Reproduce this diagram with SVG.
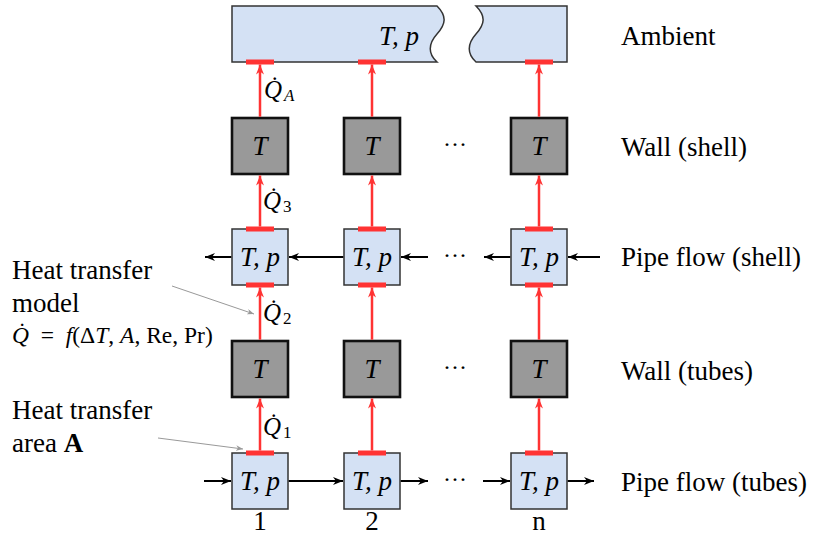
<svg xmlns="http://www.w3.org/2000/svg" width="813" height="536" viewBox="0 0 813 536">
<style>
.flow{fill:#d4e1f4;stroke:#333;stroke-width:1.5}
.wall{fill:#999;stroke:#111;stroke-width:2.6}
.bar{fill:#ff3333}
.heat{stroke:#ff3333;stroke-width:2.5;fill:none}
.mass{stroke:#000;stroke-width:2;fill:none}
.lead{stroke:#999;stroke-width:1;fill:none}
text{font-family:"Liberation Serif","Times New Roman","DejaVu Serif",serif;fill:#000}
.m{font-style:italic;font-size:27px;text-anchor:middle}
.lbl{font-size:27px}
.q{font-style:italic;font-size:25px}
.sub{font-size:17px}
.up{font-style:normal}
.dots{font-size:24px;text-anchor:middle}
</style>
<defs>
<marker id="ar" viewBox="0 0 10 8" refX="10" refY="4" markerWidth="10" markerHeight="8" markerUnits="userSpaceOnUse" orient="auto">
<path d="M0,0 L10,4 L0,8 L3,4 Z" fill="#ff3333"/>
</marker>
<marker id="ab" viewBox="0 0 10 8" refX="10" refY="4" markerWidth="10" markerHeight="8" markerUnits="userSpaceOnUse" orient="auto">
<path d="M0,0 L10,4 L0,8 L3,4 Z" fill="#000"/>
</marker>
<marker id="ag" viewBox="0 0 10 8" refX="10" refY="4" markerWidth="7" markerHeight="5.6" markerUnits="userSpaceOnUse" orient="auto">
<path d="M0,0 L10,4 L0,8 L3,4 Z" fill="#999"/>
</marker>
</defs>

<g id="ambient">
<path class="flow" d="M232,6 L437,6 C447,16 446,24 437,34 C428,44 428,54 437,62 L232,62 Z"/>
<path class="flow" d="M476,6 L567,6 L567,62 L476,62 C467,54 467,44 476,34 C485,24 486,16 476,6 Z"/>
<text class="m" x="399" y="45">T, p</text>
<rect class="bar" x="246" y="59.5" width="28" height="5"/>
<rect class="bar" x="358" y="59.5" width="28" height="5"/>
<rect class="bar" x="525" y="59.5" width="28" height="5"/>
</g>

<g id="wall-shell-1"><rect class="wall" x="232" y="118" width="56" height="56"/><text class="m" x="260" y="155">T</text></g>
<g id="wall-shell-2"><rect class="wall" x="344" y="118" width="56" height="56"/><text class="m" x="372" y="155">T</text></g>
<g id="wall-shell-n"><rect class="wall" x="511" y="118" width="56" height="56"/><text class="m" x="539" y="155">T</text></g>

<g id="shell-1"><rect class="flow" x="232" y="229" width="56" height="56"/><rect class="bar" x="246" y="226.5" width="28" height="5"/><rect class="bar" x="246" y="282.5" width="28" height="5"/><text class="m" x="260" y="266">T, p</text></g>
<g id="shell-2"><rect class="flow" x="344" y="229" width="56" height="56"/><rect class="bar" x="358" y="226.5" width="28" height="5"/><rect class="bar" x="358" y="282.5" width="28" height="5"/><text class="m" x="372" y="266">T, p</text></g>
<g id="shell-n"><rect class="flow" x="511" y="229" width="56" height="56"/><rect class="bar" x="525" y="226.5" width="28" height="5"/><rect class="bar" x="525" y="282.5" width="28" height="5"/><text class="m" x="539" y="266">T, p</text></g>

<g id="wall-tubes-1"><rect class="wall" x="232" y="341" width="56" height="56"/><text class="m" x="260" y="378">T</text></g>
<g id="wall-tubes-2"><rect class="wall" x="344" y="341" width="56" height="56"/><text class="m" x="372" y="378">T</text></g>
<g id="wall-tubes-n"><rect class="wall" x="511" y="341" width="56" height="56"/><text class="m" x="539" y="378">T</text></g>

<g id="tubes-1"><rect class="flow" x="232" y="453" width="56" height="56"/><rect class="bar" x="246" y="450.5" width="28" height="5"/><text class="m" x="260" y="490">T, p</text></g>
<g id="tubes-2"><rect class="flow" x="344" y="453" width="56" height="56"/><rect class="bar" x="358" y="450.5" width="28" height="5"/><text class="m" x="372" y="490">T, p</text></g>
<g id="tubes-n"><rect class="flow" x="511" y="453" width="56" height="56"/><rect class="bar" x="525" y="450.5" width="28" height="5"/><text class="m" x="539" y="490">T, p</text></g>

<g id="connectors">
<line class="heat" x1="260" y1="116.7" x2="260" y2="64.5" marker-end="url(#ar)"/>
<line class="heat" x1="372" y1="116.7" x2="372" y2="64.5" marker-end="url(#ar)"/>
<line class="heat" x1="539" y1="116.7" x2="539" y2="64.5" marker-end="url(#ar)"/>
<line class="heat" x1="260" y1="226.5" x2="260" y2="175.5" marker-end="url(#ar)"/>
<line class="heat" x1="372" y1="226.5" x2="372" y2="175.5" marker-end="url(#ar)"/>
<line class="heat" x1="539" y1="226.5" x2="539" y2="175.5" marker-end="url(#ar)"/>
<line class="heat" x1="260" y1="339.7" x2="260" y2="287.5" marker-end="url(#ar)"/>
<line class="heat" x1="372" y1="339.7" x2="372" y2="287.5" marker-end="url(#ar)"/>
<line class="heat" x1="539" y1="339.7" x2="539" y2="287.5" marker-end="url(#ar)"/>
<line class="heat" x1="260" y1="450.5" x2="260" y2="398.5" marker-end="url(#ar)"/>
<line class="heat" x1="372" y1="450.5" x2="372" y2="398.5" marker-end="url(#ar)"/>
<line class="heat" x1="539" y1="450.5" x2="539" y2="398.5" marker-end="url(#ar)"/>

<line class="mass" x1="600" y1="257" x2="568" y2="257" marker-end="url(#ab)"/>
<line class="mass" x1="510.3" y1="257" x2="484" y2="257" marker-end="url(#ab)"/>
<line class="mass" x1="428" y1="257" x2="401" y2="257" marker-end="url(#ab)"/>
<line class="mass" x1="343.3" y1="257" x2="289" y2="257" marker-end="url(#ab)"/>
<line class="mass" x1="231.3" y1="257" x2="205" y2="257" marker-end="url(#ab)"/>

<line class="mass" x1="204" y1="481" x2="231" y2="481" marker-end="url(#ab)"/>
<line class="mass" x1="288.7" y1="481" x2="343" y2="481" marker-end="url(#ab)"/>
<line class="mass" x1="400.7" y1="481" x2="428" y2="481" marker-end="url(#ab)"/>
<line class="mass" x1="483" y1="481" x2="510" y2="481" marker-end="url(#ab)"/>
<line class="mass" x1="567.7" y1="481" x2="594" y2="481" marker-end="url(#ab)"/>

<line class="lead" x1="172" y1="286" x2="254" y2="314" marker-end="url(#ag)"/>
<line class="lead" x1="158" y1="438" x2="243" y2="449" marker-end="url(#ag)"/>
</g>

<g id="dots">
<text class="dots" x="455" y="152">···</text>
<text class="dots" x="455" y="263">···</text>
<text class="dots" x="455" y="375">···</text>
<text class="dots" x="455" y="487">···</text>
</g>

<g id="heat-labels">
<text class="q" x="264" y="98">Q̇<tspan class="sub" dx="2" dy="3">A</tspan></text>
<text class="q" x="263" y="209">Q̇<tspan class="sub up" dx="2" dy="3">3</tspan></text>
<text class="q" x="263" y="321">Q̇<tspan class="sub up" dx="2" dy="3">2</tspan></text>
<text class="q" x="263" y="435">Q̇<tspan class="sub up" dx="2" dy="3">1</tspan></text>
</g>

<g id="row-labels">
<text class="lbl" x="621" y="45">Ambient</text>
<text class="lbl" x="621" y="156">Wall (shell)</text>
<text class="lbl" x="621" y="266">Pipe flow (shell)</text>
<text class="lbl" x="621" y="380">Wall (tubes)</text>
<text class="lbl" x="621" y="491">Pipe flow (tubes)</text>
</g>

<g id="col-labels">
<text class="lbl" x="260" y="530" text-anchor="middle">1</text>
<text class="lbl" x="372" y="530" text-anchor="middle">2</text>
<text class="lbl" x="539" y="530" text-anchor="middle">n</text>
</g>

<g id="annotations">
<text class="lbl" x="12" y="279">Heat transfer</text>
<text class="lbl" x="12" y="312">model</text>
<text class="q" x="12" y="343" style="font-size:23.5px">Q̇<tspan class="up" xml:space="preserve">  =  </tspan>f<tspan class="up">(Δ</tspan>T<tspan class="up">, </tspan>A<tspan class="up">, Re, Pr)</tspan></text>
<text class="lbl" x="12" y="419">Heat transfer</text>
<text class="lbl" x="12" y="452">area <tspan font-weight="bold">A</tspan></text>
</g>
</svg>
